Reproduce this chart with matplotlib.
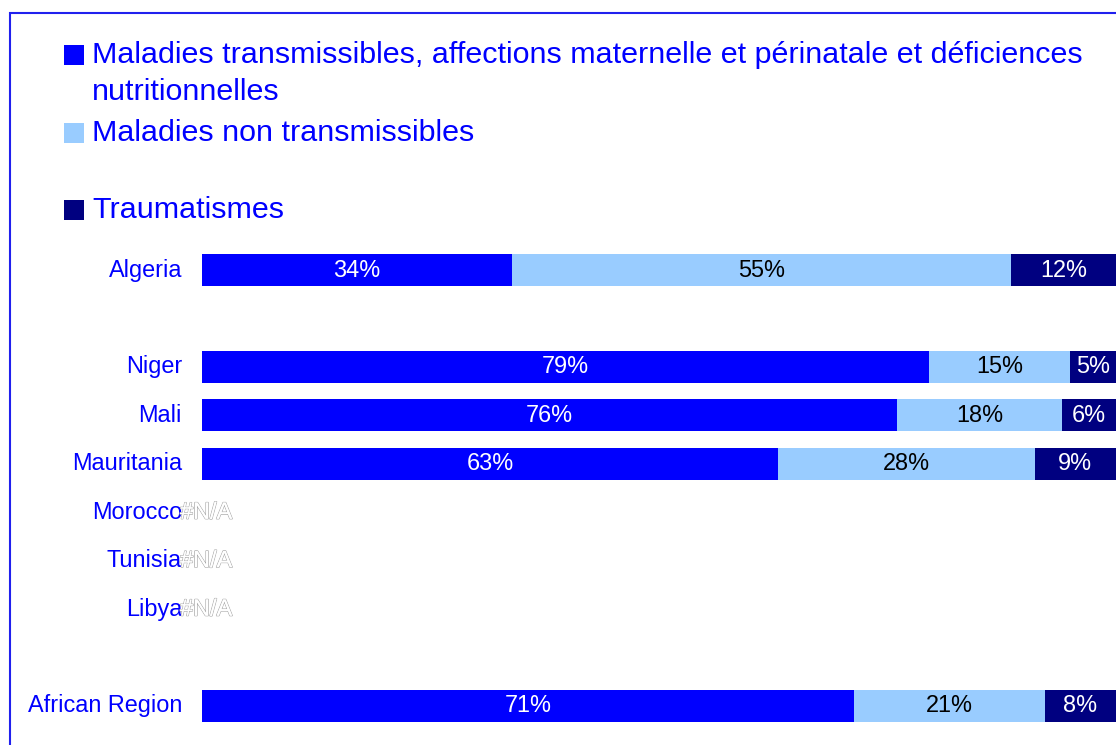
import numpy as np
import matplotlib
matplotlib.use("Agg")
import matplotlib.pyplot as plt
from matplotlib.patches import Rectangle
import matplotlib.patheffects as pe

plt.rcParams['font.family'] = ['Liberation Sans', 'DejaVu Sans']

categories = ["Algeria", "", "Niger", "Mali", "Mauritania", "Morocco", "Tunisia", "Libya", "", "African Region"]
missing = [False, False, False, False, False, True, True, True, False, False]
communicable = [33.9, np.nan, 79.4, 76.0, 63.0, np.nan, np.nan, np.nan, np.nan, 71.3]
noncommunicable = [54.6, np.nan, 15.4, 18.1, 28.1, np.nan, np.nan, np.nan, np.nan, 20.9]
injuries = [11.5, np.nan, 5.0, 5.9, 8.9, np.nan, np.nan, np.nan, np.nan, 7.8]

series_names = ["Maladies transmissibles, affections maternelle et périnatale et déficiences\nnutritionnelles",
                "Maladies non transmissibles",
                "Traumatismes"]
colors = ["#0000FF", "#99CCFF", "#000080"]
label_colors = ["white", "black", "white"]
text_blue = "#0000FF"

W, H = 1116, 745
fig = plt.figure(figsize=(W / 100, H / 100), dpi=100)

def fx(px):
    return px / W

def fy(py):
    return 1 - py / H

# outer border
fig.patches.append(Rectangle((fx(10), fy(760)), fx(1130) - fx(10), fy(13) - fy(760),
                             transform=fig.transFigure, fill=False, edgecolor="#2020EE",
                             linewidth=1.5, clip_on=False))

slot = 48.44
top_px = 270 - slot / 2
bot_px = 706 + slot / 2
ax = fig.add_axes([fx(202), fy(bot_px), fx(1116) - fx(202), fy(top_px) - fy(bot_px)])
ax.set_xlim(0, 1)
ax.set_ylim(len(categories) - 0.5, -0.5)
ax.axis("off")

data = np.array([communicable, noncommunicable, injuries], dtype=float)
totals = np.nansum(data, axis=0)
y = np.arange(len(categories))
left = np.zeros(len(categories))
for i in range(3):
    vals = data[i]
    share = np.where(np.isnan(vals), 0, vals / np.where(totals == 0, 1, totals))
    ax.barh(y, share, left=left, height=0.66, color=colors[i], edgecolor="none")
    for j in range(len(categories)):
        if not np.isnan(vals[j]):
            ax.text(left[j] + share[j] / 2, y[j], "%.0f%%" % vals[j], ha="center", va="center",
                    color=label_colors[i], fontsize=16.9)
    left = left + share

for j, c in enumerate(categories):
    if c:
        ax.annotate(c, xy=(0, y[j]), xytext=(-20 * 0.72, 0), textcoords="offset points",
                    ha="right", va="center", color=text_blue, fontsize=16.9, annotation_clip=False)
    if missing[j]:
        ax.annotate("#N/A", xy=(0, y[j]), xytext=(-22 * 0.72, 0), textcoords="offset points",
                    ha="left", va="center", color="white", fontsize=16.9, annotation_clip=False,
                    path_effects=[pe.withStroke(linewidth=1.0, foreground="#A8A8A8"), pe.Normal()])

# legend
legend_y = [55, 133, 210]
for i in range(3):
    fig.patches.append(Rectangle((fx(64), fy(legend_y[i] + 10)), fx(20), fy(0) - fy(20),
                                 transform=fig.transFigure, facecolor=colors[i], edgecolor="none"))
lines0 = series_names[0].split("\n")
fs_leg = 21.95
fig.text(fx(92), fy(55), lines0[0], ha="left", va="center", color=text_blue, fontsize=fs_leg)
fig.text(fx(92), fy(92), lines0[1], ha="left", va="center", color=text_blue, fontsize=fs_leg)
fig.text(fx(92), fy(133), series_names[1], ha="left", va="center", color=text_blue, fontsize=fs_leg)
fig.text(fx(92), fy(210), series_names[2], ha="left", va="center", color=text_blue, fontsize=fs_leg)

fig.savefig("out.png", dpi=100)
